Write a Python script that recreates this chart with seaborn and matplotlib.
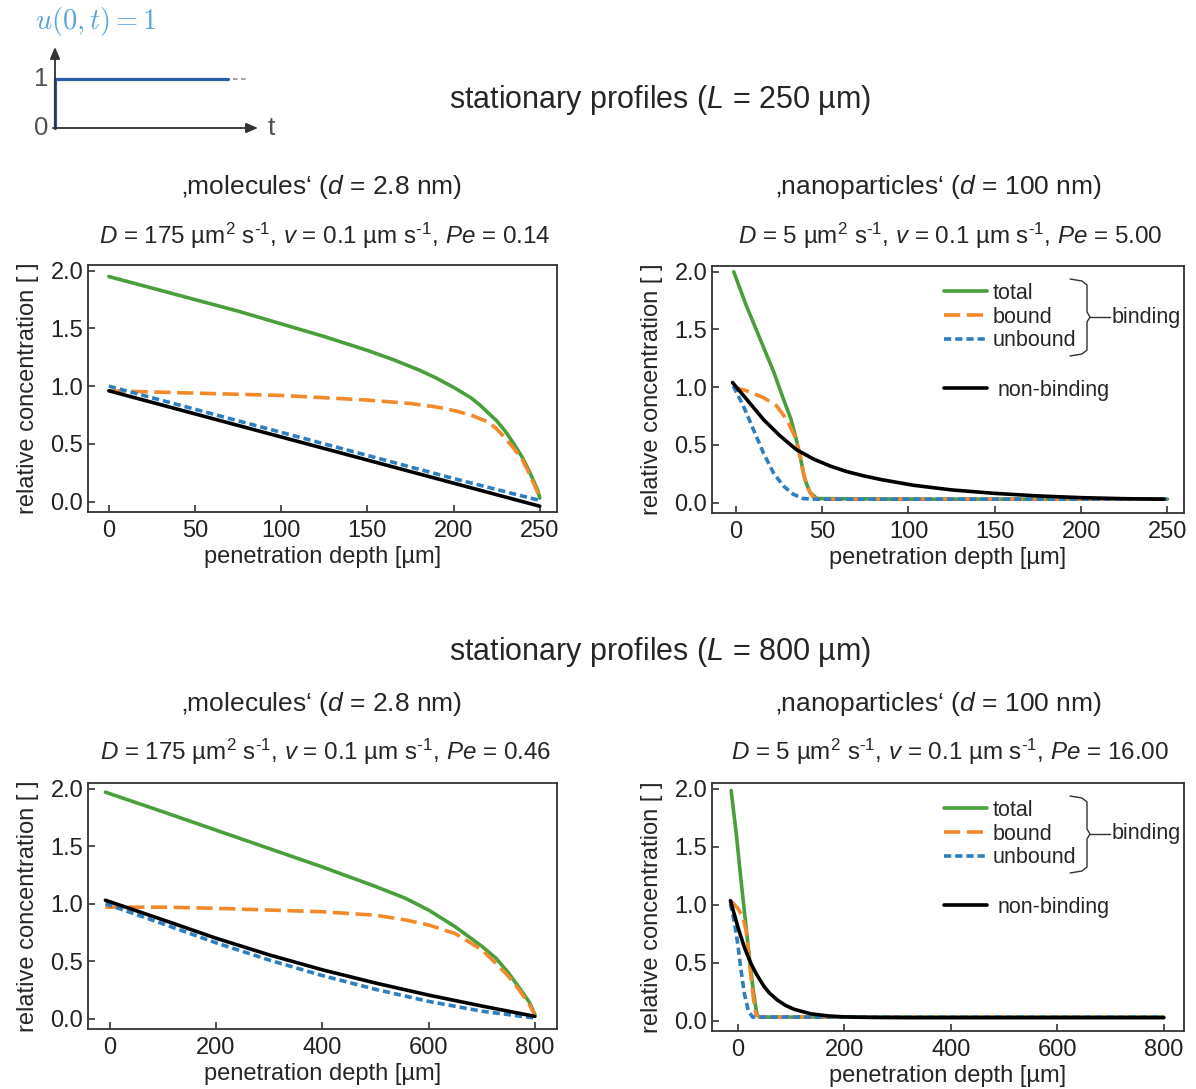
import numpy as np
import pandas as pd
import matplotlib
matplotlib.use("Agg")
import matplotlib.pyplot as plt
from matplotlib.lines import Line2D
import seaborn as sns

sns.set_style("ticks")
plt.rcParams['font.family'] = ['Liberation Sans', 'DejaVu Sans']
plt.rcParams['mathtext.fontset'] = 'custom'
plt.rcParams['mathtext.rm'] = 'Liberation Sans'
plt.rcParams['mathtext.it'] = 'Liberation Sans:italic'
plt.rcParams['mathtext.bf'] = 'Liberation Sans:bold'

# ---------------- data: L = 250 um, molecules ----------------
m250_total_x = [0, 25, 50, 75, 100, 125, 150, 165, 180, 190, 200, 210, 215, 220, 225, 230, 235, 240, 244, 247, 249, 250]
m250_total_y = [1.95, 1.85, 1.75, 1.65, 1.54, 1.43, 1.31, 1.23, 1.14, 1.07, 0.99, 0.90, 0.84, 0.77, 0.70, 0.61, 0.50, 0.38, 0.26, 0.16, 0.09, 0.03]
m250_bound_x = [0, 25, 50, 75, 100, 125, 150, 175, 190, 200, 210, 220, 225, 230, 235, 240, 244, 247, 249, 250]
m250_bound_y = [0.96, 0.95, 0.94, 0.93, 0.92, 0.90, 0.88, 0.85, 0.82, 0.79, 0.75, 0.69, 0.63, 0.55, 0.46, 0.36, 0.24, 0.14, 0.07, 0.03]
m250_unbound_x = [0, 50, 100, 150, 200, 250]
m250_unbound_y = [1.00, 0.80, 0.60, 0.40, 0.20, 0.01]
m250_free_x = [0, 50, 100, 150, 200, 250]
m250_free_y = [0.96, 0.76, 0.56, 0.36, 0.16, -0.04]

# ---------------- data: L = 250 um, nanoparticles ----------------
n250_total_x = [-1.2, 6, 14, 22, 27.5, 32, 35, 37.5, 40, 43, 47, 100, 150, 200, 250]
n250_total_y = [2.00, 1.71, 1.42, 1.13, 0.90, 0.72, 0.55, 0.38, 0.20, 0.087, 0.035, 0.03, 0.03, 0.03, 0.03]
n250_bound_x = [-1.5, 6, 16, 23.5, 29.5, 34, 37, 39, 42, 45, 49, 100, 150, 200, 250]
n250_bound_y = [1.00, 0.97, 0.91, 0.84, 0.72, 0.58, 0.43, 0.26, 0.116, 0.043, 0.03, 0.03, 0.03, 0.03, 0.03]
n250_unbound_x = [-1.5, 4.3, 10, 16, 21.7, 27.5, 33.3, 39, 45, 100, 150, 200, 250]
n250_unbound_y = [1.01, 0.84, 0.64, 0.43, 0.26, 0.145, 0.072, 0.035, 0.03, 0.03, 0.03, 0.03, 0.03]
n250_free_x = [-1.9, 6, 16, 25.5, 35, 45, 55, 64, 74, 84, 103, 125, 150, 175, 200, 225, 248]
n250_free_y = [1.04, 0.90, 0.72, 0.58, 0.46, 0.377, 0.315, 0.27, 0.232, 0.20, 0.15, 0.11, 0.08, 0.058, 0.043, 0.034, 0.03]

# ---------------- data: L = 800 um, molecules ----------------
m800_total_x = [-8, 100, 200, 300, 400, 500, 555, 600, 650, 700, 727, 750, 772, 790, 800]
m800_total_y = [1.97, 1.80, 1.64, 1.48, 1.32, 1.15, 1.05, 0.945, 0.80, 0.63, 0.525, 0.40, 0.26, 0.14, 0.035]
m800_bound_x = [-8, 100, 200, 300, 400, 500, 555, 600, 650, 700, 727, 750, 772, 790, 800]
m800_bound_y = [0.97, 0.97, 0.96, 0.945, 0.93, 0.90, 0.86, 0.815, 0.74, 0.60, 0.48, 0.37, 0.24, 0.12, 0.03]
m800_unbound_x = [-8, 100, 200, 300, 400, 500, 600, 700, 800]
m800_unbound_y = [1.00, 0.825, 0.66, 0.51, 0.375, 0.255, 0.15, 0.065, 0.005]
m800_free_x = [-8, 100, 200, 300, 400, 500, 600, 700, 800]
m800_free_y = [1.03, 0.86, 0.70, 0.555, 0.425, 0.31, 0.205, 0.11, 0.02]

# ---------------- data: L = 800 um, nanoparticles ----------------
n800_total_x = [-12.5, -3, 6, 15.6, 23.8, 30, 36, 40.6, 200, 400, 600, 800]
n800_total_y = [1.985, 1.62, 1.215, 0.81, 0.46, 0.23, 0.05, 0.03, 0.03, 0.03, 0.03, 0.03]
n800_bound_x = [-12.5, 0, 9.4, 15.6, 20, 25, 30, 34.4, 40.6, 200, 400, 600, 800]
n800_bound_y = [1.03, 0.97, 0.895, 0.78, 0.60, 0.37, 0.17, 0.05, 0.03, 0.03, 0.03, 0.03, 0.03]
n800_unbound_x = [-13.75, -6, 0, 6.25, 12.5, 20, 28, 200, 400, 600, 800]
n800_unbound_y = [1.01, 0.84, 0.66, 0.43, 0.23, 0.08, 0.03, 0.03, 0.03, 0.03, 0.03]
n800_free_x = [-13.75, 0, 12.5, 25, 35, 50, 60, 75, 90, 106, 137.5, 170, 200, 250, 325, 800]
n800_free_y = [1.035, 0.81, 0.63, 0.49, 0.40, 0.29, 0.235, 0.175, 0.13, 0.097, 0.058, 0.04, 0.032, 0.027, 0.025, 0.025]

# boundary condition sketch: u(0, t) = 1 step
step_t = [0.0, 0.0, 0.85]
step_u = [0.0, 1.0, 1.0]
step_tail_t = [0.875, 0.95]
step_tail_u = [1.0, 1.0]

series_labels = ["total", "bound", "unbound", "non-binding"]

C_TOTAL = "#4a9f3c"
C_BOUND = "#f28a2c"
C_UNBOUND = "#2f7ec0"
C_FREE = "#000000"
LW = 2.6

styles = {
    "total": dict(color=C_TOTAL, linestyle="-"),
    "bound": dict(color=C_BOUND, linestyle=(0, (4.5, 1.8))),
    "unbound": dict(color=C_UNBOUND, linestyle=(0, (2.0, 1.1))),
    "non-binding": dict(color=C_FREE, linestyle="-"),
}

W, H = 1196, 1089
fig = plt.figure(figsize=(W / 100, H / 100), dpi=100)

FS_TICK = 17
FS_LABEL = 17
FS_LEG = 15.5


def rect(left, top, right, bottom):
    return [left / W, 1 - bottom / H, (right - left) / W, (bottom - top) / H]


def panel(box, xlim, xticks, curves, legend):
    left, top, right, bottom = box
    ax = fig.add_axes(rect(*box))
    for name, (xs, ys) in zip(series_labels, curves):
        df = pd.DataFrame({"x": xs, "y": ys})
        sns.lineplot(data=df, x="x", y="y", ax=ax, estimator=None, sort=False,
                     lw=LW, legend=False, **styles[name])
    ax.set_xlim(*xlim)
    ax.set_ylim(-0.09, 2.05)
    ax.set_xticks(xticks)
    ax.set_yticks([0.0, 0.5, 1.0, 1.5, 2.0])
    ax.yaxis.set_major_formatter(matplotlib.ticker.FormatStrFormatter("%.1f"))
    ax.tick_params(direction="in", length=5, width=1.1, labelsize=FS_TICK,
                   colors="#222222")
    ax.tick_params(axis="x", pad=6)
    ax.tick_params(axis="y", pad=3.5)
    for sp in ax.spines.values():
        sp.set_linewidth(1.3)
        sp.set_color("#333333")
    ax.set_xlabel("penetration depth [µm]", fontsize=FS_LABEL, labelpad=2.5)
    ax.set_ylabel("relative concentration [ ]", fontsize=FS_LABEL, labelpad=8.5)
    if legend:
        aw, ah = right - left, bottom - top

        def fx(px):
            return (px - left) / aw

        def fy(py):
            return (bottom - py) / ah

        h = [Line2D([], [], lw=LW, **styles[n]) for n in series_labels]
        leg1 = ax.legend(h[:3], series_labels[:3], loc="upper left",
                         bbox_to_anchor=(fx(944), fy(top + 17)), frameon=False,
                         fontsize=FS_LEG, handlelength=2.0, handletextpad=0.25,
                         labelspacing=0.12, borderpad=0, borderaxespad=0)
        ax.add_artist(leg1)
        ax.legend(h[3:], series_labels[3:], loc="upper left",
                  bbox_to_anchor=(fx(944), fy(top + 114)), frameon=False,
                  fontsize=FS_LEG, handlelength=2.0, handletextpad=0.5,
                  borderpad=0, borderaxespad=0)
        # brace grouping the total/bound/unbound entries
        off = [13, 15, 19, 46, 51, 56, 84, 88, 90]
        bxp = [1070, 1082, 1087, 1087, 1090, 1087, 1087, 1082, 1070]
        ax.plot([fx(p) for p in bxp], [fy(top + o) for o in off],
                transform=ax.transAxes, color="#333333", lw=1.0, clip_on=False)
        ax.plot([fx(1090), fx(1110)], [fy(top + 51), fy(top + 51)],
                transform=ax.transAxes, color="#333333", lw=1.0, clip_on=False)
        ax.text(fx(1112), fy(top + 51), "binding", transform=ax.transAxes,
                fontsize=FS_LEG, va="center", ha="left", clip_on=False)
    return ax


panel((88, 265, 557, 512), (-12.1, 260), [0, 50, 100, 150, 200, 250],
      [(m250_total_x, m250_total_y), (m250_bound_x, m250_bound_y),
       (m250_unbound_x, m250_unbound_y), (m250_free_x, m250_free_y)], False)
panel((712, 266, 1184, 513), (-13.8, 259.6), [0, 50, 100, 150, 200, 250],
      [(n250_total_x, n250_total_y), (n250_bound_x, n250_bound_y),
       (n250_unbound_x, n250_unbound_y), (n250_free_x, n250_free_y)], True)
panel((88, 783, 557, 1029), (-40.8, 841.6), [0, 200, 400, 600, 800],
      [(m800_total_x, m800_total_y), (m800_bound_x, m800_bound_y),
       (m800_unbound_x, m800_unbound_y), (m800_free_x, m800_free_y)], False)
panel((712, 783, 1184, 1031), (-48.4, 838), [0, 200, 400, 600, 800],
      [(n800_total_x, n800_total_y), (n800_bound_x, n800_bound_y),
       (n800_unbound_x, n800_unbound_y), (n800_free_x, n800_free_y)], True)


def ftext(px, py, s, size, **kw):
    fig.text(px / W, 1 - py / H, s, fontsize=size, ha="center", va="center", **kw)


SUP = r"$^{\text{-}1}$"
FS_TITLE, FS_SUB, FS_PAR = 22, 19, 17.4

# section headings and parameter lines
ftext(660, 100, r"stationary profiles ($L$ = 250 µm)", FS_TITLE)
ftext(322, 187, r"‚molecules‘ ($d$ = 2.8 nm)", FS_SUB)
ftext(325, 236, r"$D$ = 175 µm$^2$ s" + SUP + r", $v$ = 0.1 µm s" + SUP + r", $Pe$ = 0.14", FS_PAR)
ftext(938, 187, r"‚nanoparticles‘ ($d$ = 100 nm)", FS_SUB)
ftext(950, 236, r"$D$ = 5 µm$^2$ s" + SUP + r", $v$ = 0.1 µm s" + SUP + r", $Pe$ = 5.00", FS_PAR)

ftext(660, 652, r"stationary profiles ($L$ = 800 µm)", FS_TITLE)
ftext(322, 704, r"‚molecules‘ ($d$ = 2.8 nm)", FS_SUB)
ftext(325, 752, r"$D$ = 175 µm$^2$ s" + SUP + r", $v$ = 0.1 µm s" + SUP + r", $Pe$ = 0.46", FS_PAR)
ftext(938, 704, r"‚nanoparticles‘ ($d$ = 100 nm)", FS_SUB)
ftext(950, 752, r"$D$ = 5 µm$^2$ s" + SUP + r", $v$ = 0.1 µm s" + SUP + r", $Pe$ = 16.00", FS_PAR)

# inset: constant inlet concentration
axi = fig.add_axes(rect(55, 47, 258, 128))
axi.set_xlim(0, 1)
axi.set_ylim(0, 81 / 49)
axi.axis("off")
sns.lineplot(x=step_t, y=step_u, ax=axi, estimator=None, sort=False,
             color="#2b5ca8", lw=2.3, legend=False)
sns.lineplot(x=step_tail_t, y=step_tail_u, ax=axi, estimator=None, sort=False,
             color="#999999", lw=1.3, linestyle=(0, (2.5, 2)), legend=False)
for l in axi.lines:
    l.set_clip_on(False)
arrow_kw = dict(arrowstyle="-|>,head_length=0.7,head_width=0.3", color="#333333",
                lw=1.3, shrinkA=0, shrinkB=0)
axi.annotate("", xy=(1.0, 0), xytext=(-0.01, 0), xycoords="data",
             arrowprops=arrow_kw, annotation_clip=False)
axi.annotate("", xy=(0, 81 / 49), xytext=(0, -0.02), xycoords="data",
             arrowprops=arrow_kw, annotation_clip=False)
axi.text(-0.035, 1.0, "1", fontsize=18.5, color="#505050", ha="right", va="center")
axi.text(-0.035, 0.0, "0", fontsize=18.5, color="#505050", ha="right", va="center")
axi.text(1.045, 0.0, "t", fontsize=19, color="#505050", ha="left", va="center")
fig.text(35 / W, 1 - 22 / H, r"$u(0,t) = 1$", fontsize=20.5, color="#5aa5d8",
         ha="left", va="center", math_fontfamily="cm")

fig.savefig("out.png", dpi=100)
